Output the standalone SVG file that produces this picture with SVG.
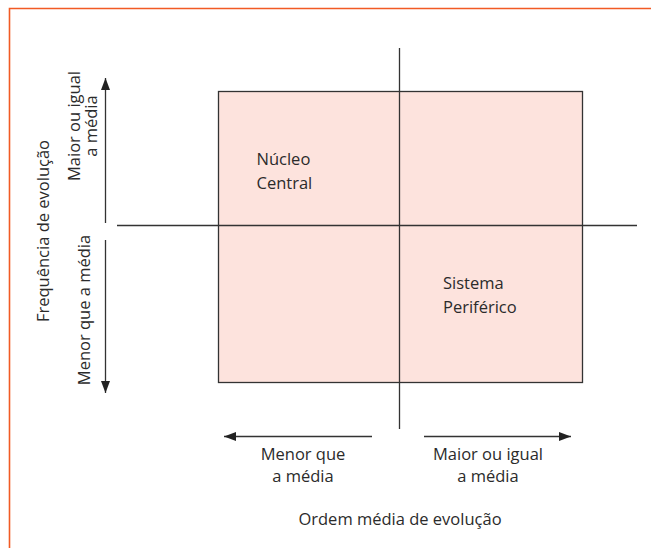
<svg xmlns="http://www.w3.org/2000/svg" width="651" height="548" viewBox="0 0 651 548">
<defs>
<style>
text{font-family:"Open Sans","Noto Sans","Liberation Sans",sans-serif;font-size:16.5px;fill:#2b2b2b;}
.ln{stroke:#333;stroke-width:1.3;fill:none;}
.q{fill:#fde3dd;stroke:#333;stroke-width:1.3;}
</style>
<marker id="ah" viewBox="0 0 12 10" refX="12" refY="5" markerWidth="12" markerHeight="10" markerUnits="userSpaceOnUse" orient="auto">
<path d="M0,0.5 L12,5 L0,9.5 Z" fill="#222"/>
</marker>
</defs>
<rect width="651" height="548" fill="#fff"/>
<path d="M9.5,560 V8.5 H660" fill="none" stroke="#f15a24" stroke-width="1.6"/>
<g id="quadrants">
<rect class="q" x="218.5" y="91.5" width="364" height="291"/>
</g>
<g id="connectors">
<line class="ln" x1="399.5" y1="48" x2="399.5" y2="429"/>
<line class="ln" x1="117" y1="225.5" x2="637" y2="225.5"/>
<line class="ln" x1="105.5" y1="223" x2="105.5" y2="78" marker-end="url(#ah)"/>
<line class="ln" x1="105.5" y1="240" x2="105.5" y2="393" marker-end="url(#ah)"/>
<line class="ln" x1="372" y1="436.5" x2="224" y2="436.5" marker-end="url(#ah)"/>
<line class="ln" x1="424" y1="436.5" x2="571" y2="436.5" marker-end="url(#ah)"/>
</g>
<g id="nucleo">
<text x="256.5" y="165">Núcleo</text>
<text x="256.5" y="189">Central</text>
</g>
<g id="periferico">
<text x="443" y="289">Sistema</text>
<text x="443" y="313">Periférico</text>
</g>
<g id="y-labels">
<text transform="translate(48.5,231) rotate(-90)" text-anchor="middle">Frequência de evolução</text>
<text transform="translate(80,126) rotate(-90)" text-anchor="middle">Maior ou igual</text>
<text transform="translate(96.5,126) rotate(-90)" text-anchor="middle">a média</text>
<text transform="translate(90,310) rotate(-90)" text-anchor="middle">Menor que a média</text>
</g>
<g id="x-labels">
<text x="303" y="460" text-anchor="middle">Menor que</text>
<text x="303" y="482" text-anchor="middle">a média</text>
<text x="488" y="460" text-anchor="middle">Maior ou igual</text>
<text x="488" y="482" text-anchor="middle">a média</text>
<text x="400" y="525" text-anchor="middle">Ordem média de evolução</text>
</g>
</svg>
